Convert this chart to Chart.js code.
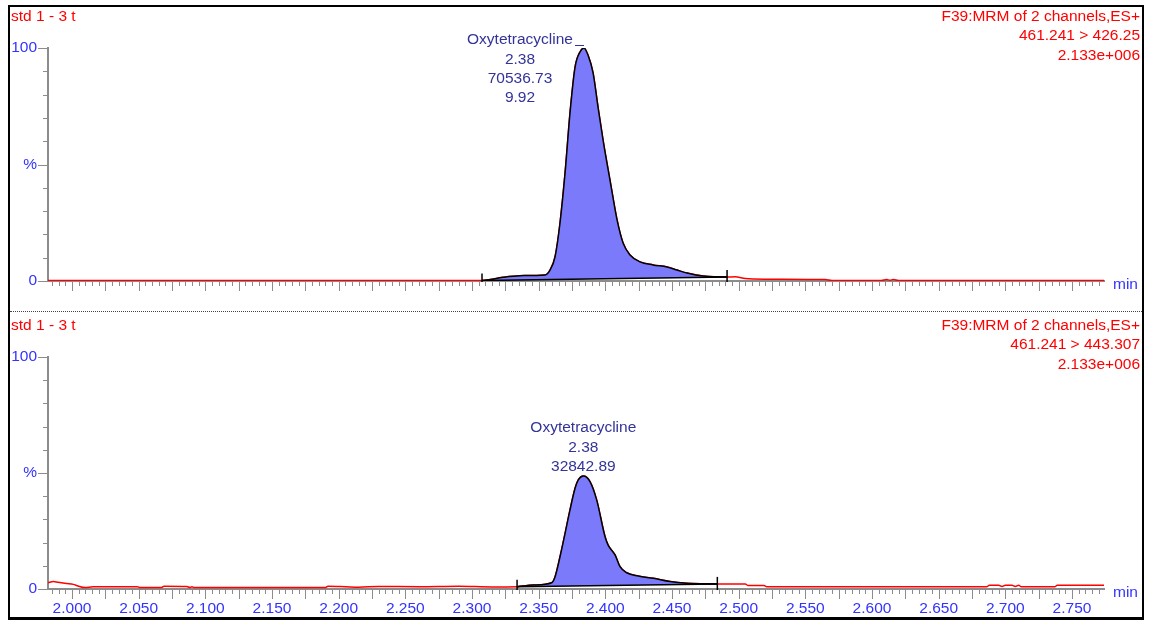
<!DOCTYPE html>
<html>
<head>
<meta charset="utf-8">
<script src="https://cdn.jsdelivr.net/npm/chart.js@4.4.1/dist/chart.umd.min.js"></script>
<style>
    body { margin: 0; background: #fff; width: 1150px; height: 622px; overflow: hidden; position: relative; }
    .frame { position: absolute; left: 8px; top: 5px; width: 1136px; height: 615px; box-sizing: border-box; border: 2px solid #000; border-bottom-width: 3px; }
    .separator { position: absolute; left: 10px; top: 311px; width: 1132px; border-top: 1px dotted #444; }
    canvas { position: absolute; left: 10px; }
    #top-chromatogram { top: 7px; }
    #bottom-chromatogram { top: 313px; }
</style>
</head>
<body>
<div class="frame"></div>
<div class="separator"></div>
<canvas id="top-chromatogram" width="1132" height="303"></canvas>
<canvas id="bottom-chromatogram" width="1132" height="304"></canvas>
<script>
const sampleName = 'std 1 - 3 t'
const timeTickLabels = ['2.000', '2.050', '2.100', '2.150', '2.200', '2.250', '2.300', '2.350',
    '2.400', '2.450', '2.500', '2.550', '2.600', '2.650', '2.700', '2.750']
const intensityTicks = [0, 50, 100]
const intensityTickLabels = ['0', '%', '100']
const timeMin = 1.982
const timeMax = 2.774

// channel 461.241 > 426.25
const topHeader = ['F39:MRM of 2 channels,ES+', '461.241 > 426.25', '2.133e+006']
const topPeakLabels = ['Oxytetracycline', '2.38', '70536.73', '9.92']
const topTimes = [1.982, 2.050, 2.150, 2.250, 2.3075, 2.3113, 2.3233, 2.3360, 2.3548, 2.3585, 2.3623,
    2.3660, 2.3698, 2.3735, 2.3773, 2.3810, 2.3840, 2.3870, 2.3908, 2.3945, 2.3983, 2.4035, 2.4088,
    2.4133, 2.4185, 2.4260, 2.4358, 2.4463, 2.4538, 2.4613, 2.4733, 2.4913, 2.4973, 2.5050, 2.5200,
    2.5650, 2.5700, 2.6070, 2.6110, 2.6135, 2.6160, 2.6200, 2.7740]
const topIntensity = [0.2, 0.2, 0.2, 0.2, 0.2, 0.4, 1.6, 2.3, 2.6, 4.7, 10.4,
    24.9, 46.4, 72.1, 91.8, 98.3, 100, 97.0, 89.3, 74.7, 60.5, 43.3, 26.2,
    16.3, 11.2, 8.2, 6.9, 6.0, 4.7, 3.4, 2.1, 1.7, 1.8, 1.1, 0.8,
    0.6, 0.2, 0.2, 0.6, 0.35, 0.6, 0.2, 0.2]
const topPeakStart = 2.3075
const topPeakEnd = 2.4913

// channel 461.241 > 443.307
const bottomHeader = ['F39:MRM of 2 channels,ES+', '461.241 > 443.307', '2.133e+006']
const bottomPeakLabels = ['Oxytetracycline', '2.38', '32842.89']
const bottomTimes = [1.982, 1.986, 1.9895, 1.996, 2.001, 2.0045, 2.0098, 2.0158, 2.0490, 2.0510,
    2.0670, 2.0690, 2.0860, 2.0885, 2.0900, 2.0915, 2.1900, 2.1920, 2.2050, 2.2150, 2.2300, 2.2600,
    2.2900, 2.3150, 2.3338, 2.3460, 2.3598, 2.3623, 2.3660, 2.3698, 2.3735, 2.3773, 2.3797, 2.3835,
    2.3885, 2.3935, 2.3998, 2.4022, 2.4073, 2.4110, 2.4160, 2.4247, 2.4360, 2.4485, 2.4610, 2.4840,
    2.5050, 2.5070, 2.5190, 2.5210, 2.6860, 2.6880, 2.6950, 2.6975, 2.7000, 2.7050, 2.7075, 2.7100,
    2.7120, 2.7370, 2.7390, 2.7740]
const bottomIntensity = [2.7, 3.2, 2.9, 2.4, 2.0, 1.3, 0.6, 1.0, 1.0, 0.6,
    0.6, 1.2, 1.1, 0.6, 1.0, 0.6, 0.6, 1.2, 1.0, 0.8, 1.1, 1.0,
    1.2, 0.9, 1.0, 1.7, 2.7, 5.3, 13.9, 24.0, 34.1, 43.4, 47.0, 48.7,
    46.3, 38.4, 22.5, 18.8, 14.7, 9.6, 7.0, 5.6, 4.6, 3.2, 2.5, 2.2,
    2.2, 1.5, 1.5, 1.0, 1.0, 1.6, 1.6, 1.1, 1.6, 1.6, 1.1, 1.6,
    1.0, 1.0, 1.6, 1.6]
const bottomPeakStart = 2.3338
const bottomPeakEnd = 2.4840

const axisGrey = '#8c8c8c'
const labelBlue = '#3333ff'
const headerRed = '#ff0000'
const peakNavy = '#333399'
const peakFill = 'rgb(122, 122, 250)'
const fontFamily = "'Liberation Sans', Arial, sans-serif"
const fontSize = 15.5

function toPoints(times, values) {
    return times.map((t, i) => ({x: t, y: values[i]}))
}

function valueAt(times, values, t) {
    return values[times.indexOf(t)]
}

const chromatogramDecor = {
    id: 'chromatogramDecor',
    afterDraw(chart, args, opts) {
        const {ctx, chartArea: {left, right, top, bottom}, scales: {x, y}} = chart
        ctx.save()

        // tick marks, every 0.005 min and every 10 %
        ctx.strokeStyle = axisGrey
        ctx.lineWidth = 1
        ctx.beginPath()
        for (let k = Math.ceil(timeMin * 200); k <= Math.floor(timeMax * 200); k++) {
            const px = Math.round(x.getPixelForValue(k / 200)) + 0.5
            const len = k % 5 === 0 ? 9 : 4
            ctx.moveTo(px, bottom + 1)
            ctx.lineTo(px, bottom + 1 + len)
        }
        for (let k = 0; k <= 10; k++) {
            const py = Math.round(y.getPixelForValue(k * 10)) + 0.5
            const len = k % 5 === 0 ? 9 : 4
            ctx.moveTo(left - 1, py)
            ctx.lineTo(left - 1 - len, py)
        }
        ctx.stroke()

        // integration start / end markers
        const baseline = chart.data.datasets[1].data
        ctx.strokeStyle = '#000'
        ctx.lineWidth = 1.5
        baseline.forEach(p => {
            const px = x.getPixelForValue(p.x)
            const py = y.getPixelForValue(p.y)
            ctx.beginPath()
            ctx.moveTo(px, py - 7)
            ctx.lineTo(px, Math.min(py + 7, bottom + 1))
            ctx.stroke()
        })

        // peak annotation
        const peak = chart.data.datasets[0].data
        const apex = peak.reduce((a, b) => b.y > a.y ? b : a)
        const ax = x.getPixelForValue(apex.x)
        const ay = y.getPixelForValue(apex.y)
        ctx.font = fontSize + 'px ' + fontFamily
        ctx.textBaseline = 'middle'
        ctx.textAlign = 'center'
        ctx.fillStyle = peakNavy
        opts.peakLabels.forEach((line, i) => {
            ctx.fillText(line, ax + opts.labelDx, ay + opts.labelDy + i * 19.3)
        })
        if (opts.apexDash) {
            ctx.strokeStyle = peakNavy
            ctx.lineWidth = 1
            ctx.beginPath()
            ctx.moveTo(ax - 9, ay - 2.5)
            ctx.lineTo(ax, ay - 2.5)
            ctx.stroke()
        }

        // header texts
        ctx.fillStyle = headerRed
        ctx.textAlign = 'left'
        ctx.fillText(sampleName, 1, top - 31.5)
        ctx.textAlign = 'right'
        opts.header.forEach((line, i) => {
            ctx.fillText(line, right + 36, top - 31.5 + i * 19.5)
        })

        ctx.fillStyle = labelBlue
        ctx.textAlign = 'left'
        ctx.fillText('min', right + 9, bottom + 4)
        ctx.restore()
    }
}

function chromatogramConfig(times, values, peakStart, peakEnd, header, peakLabels, placement, showTimeLabels, paddingTop, axisHeight) {
    const trace = toPoints(times, values)
    const peak = trace.filter(p => p.x >= peakStart && p.x <= peakEnd)
    const baseline = [
        {x: peakStart, y: valueAt(times, values, peakStart)},
        {x: peakEnd, y: valueAt(times, values, peakEnd)}
    ]

    return {
        type: 'line',
        data: {
            datasets: [{
                data: peak,
                borderColor: '#000',
                borderWidth: 1.5,
                backgroundColor: peakFill,
                fill: 1,
                order: 1
            }, {
                data: baseline,
                borderColor: '#000',
                borderWidth: 1.5,
                fill: false,
                cubicInterpolationMode: 'default',
                order: 0
            }, {
                data: trace,
                borderColor: headerRed,
                borderWidth: 1.5,
                fill: false,
                order: 3
            }]
        },
        options: {
            responsive: false,
            animation: false,
            devicePixelRatio: 1,
            layout: {padding: {top: paddingTop, right: 38, left: 0, bottom: 0}},
            elements: {
                point: {radius: 0},
                line: {cubicInterpolationMode: 'monotone'}
            },
            plugins: {
                legend: {display: false},
                tooltip: {enabled: false},
                chromatogramDecor: {
                    header: header,
                    peakLabels: peakLabels,
                    labelDx: placement.dx,
                    labelDy: placement.dy,
                    apexDash: placement.dash
                }
            },
            scales: {
                x: {
                    type: 'linear',
                    min: timeMin,
                    max: timeMax,
                    grid: {display: false, drawTicks: false},
                    border: {color: axisGrey, width: 2},
                    afterBuildTicks: scale => {
                        scale.ticks = timeTickLabels.map(l => ({value: parseFloat(l)}))
                    },
                    afterFit: scale => {
                        scale.height = axisHeight
                    },
                    ticks: {
                        display: showTimeLabels,
                        autoSkip: false,
                        maxRotation: 0,
                        padding: 10,
                        color: labelBlue,
                        font: {family: fontFamily, size: fontSize},
                        callback: (value, index) => timeTickLabels[index]
                    }
                },
                y: {
                    min: 0,
                    max: 100,
                    grid: {display: false, drawTicks: false},
                    border: {color: axisGrey, width: 2},
                    afterBuildTicks: scale => {
                        scale.ticks = intensityTicks.map(v => ({value: v}))
                    },
                    afterFit: scale => {
                        scale.width = 38
                    },
                    ticks: {
                        padding: 11,
                        color: labelBlue,
                        font: {family: fontFamily, size: fontSize},
                        callback: (value, index) => intensityTickLabels[index]
                    }
                }
            }
        },
        plugins: [chromatogramDecor]
    }
}

const topChromatogram = new Chart(
    document.getElementById('top-chromatogram').getContext('2d'),
    chromatogramConfig(topTimes, topIntensity, topPeakStart, topPeakEnd, topHeader, topPeakLabels,
        {dx: -64, dy: -8, dash: true}, false, 41, 29)
)

const bottomChromatogram = new Chart(
    document.getElementById('bottom-chromatogram').getContext('2d'),
    chromatogramConfig(bottomTimes, bottomIntensity, bottomPeakStart, bottomPeakEnd, bottomHeader, bottomPeakLabels,
        {dx: 0, dy: -48, dash: false}, true, 44, 28)
)
</script>
</body>
</html>
